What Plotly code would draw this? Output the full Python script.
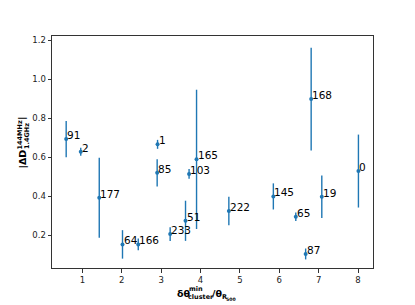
import plotly.graph_objects as go

labels = ["91", "2", "177", "64", "166", "1", "85", "233", "51", "103",
          "165", "222", "145", "65", "87", "168", "19", "0"]
x_vals = [0.59, 0.96, 1.43, 2.02, 2.42, 2.91, 2.90, 3.23, 3.62, 3.71,
          3.90, 4.72, 5.85, 6.42, 6.67, 6.81, 7.08, 8.01]
y_vals = [0.692, 0.627, 0.391, 0.152, 0.152, 0.665, 0.519, 0.205, 0.273, 0.513,
          0.588, 0.323, 0.398, 0.294, 0.103, 0.897, 0.396, 0.528]
y_err = [0.093, 0.020, 0.205, 0.073, 0.030, 0.023, 0.070, 0.035, 0.103, 0.025,
         0.357, 0.073, 0.067, 0.022, 0.028, 0.263, 0.109, 0.187]

x_ticks = [1, 2, 3, 4, 5, 6, 7, 8]
y_ticks = [0.2, 0.4, 0.6, 0.8, 1.0, 1.2]
y_ticktext = ["0.2", "0.4", "0.6", "0.8", "1.0", "1.2"]

# page body has an 8px default margin; lay out in window pixels, then offset
OFF = 8
W, H = 415 - OFF, 305 - OFF
L, R, T, B = 52, 373, 36, 268  # plot area in window pixels
FONT = "DejaVu Sans"
BLUE = "#1f77b4"

fig = go.Figure()
fig.add_trace(go.Scatter(
    x=x_vals, y=y_vals, mode="markers",
    marker=dict(color=BLUE, size=4),
    error_y=dict(type="data", array=y_err, visible=True, color=BLUE,
                 thickness=1.4, width=0),
    showlegend=False, hoverinfo="skip",
))

annotations = []
for xv, yv, lab in zip(x_vals, y_vals, labels):
    annotations.append(dict(
        x=xv, y=yv, xref="x", yref="y", text=lab, showarrow=False,
        xanchor="left", yanchor="middle", xshift=0, yshift=4, borderpad=0,
        font=dict(family=FONT, size=10.5, color="black"),
    ))


def px_ann(text, cx, cy, size, angle=0):
    return dict(
        x=(cx - L) / (R - L), y=(B - cy) / (B - T), xref="paper", yref="paper",
        text=text, showarrow=False, xanchor="center", yanchor="middle",
        textangle=angle, borderpad=0,
        font=dict(family=FONT, size=size, color="black"),
    )


# x-axis title: δθ^{min}_{cluster}/θ_{R500}
annotations += [
    px_ann("<b>δθ</b>", 183.5, 293.5, 9.5),
    px_ann("<b>min</b>", 196, 288.7, 6.5),
    px_ann("<b>cluster</b>", 201, 297.2, 6.5),
    px_ann("<b>/θ</b>", 216.5, 293.5, 9.5),
    px_ann("<b>R</b>", 224.3, 297, 6.5),
    px_ann("<b>500</b>", 231.2, 299, 4.6),
]
# y-axis title: |ΔD^{144MHz}_{1.4GHz}| (rotated)
annotations += [
    px_ann("<b>|ΔD</b>", 21.5, 159, 9.5, -90),
    px_ann("<b>144MHz</b>", 19.5, 135, 6.5, -90),
    px_ann("<b>1.4GHz</b>", 26.5, 136.5, 6.5, -90),
    px_ann("<b>|</b>", 21.5, 118.5, 9.5, -90),
]

axis_common = dict(
    showline=True, linecolor="#333", linewidth=1, mirror=True,
    ticks="outside", ticklen=3.5, tickwidth=1, tickcolor="#333",
    showgrid=False, zeroline=False,
    tickfont=dict(family=FONT, size=8.5, color="#222"),
)

fig.update_layout(
    width=W, height=H,
    margin=dict(l=L - OFF, r=415 - R, t=T - OFF, b=305 - B, pad=0),
    paper_bgcolor="white", plot_bgcolor="white",
    xaxis=dict(range=[0.23, 8.38], tickvals=x_ticks, **axis_common),
    yaxis=dict(range=[0.031, 1.2205], tickvals=y_ticks, ticktext=y_ticktext,
               **axis_common),
    annotations=annotations,
)

fig.write_html("out.html")
